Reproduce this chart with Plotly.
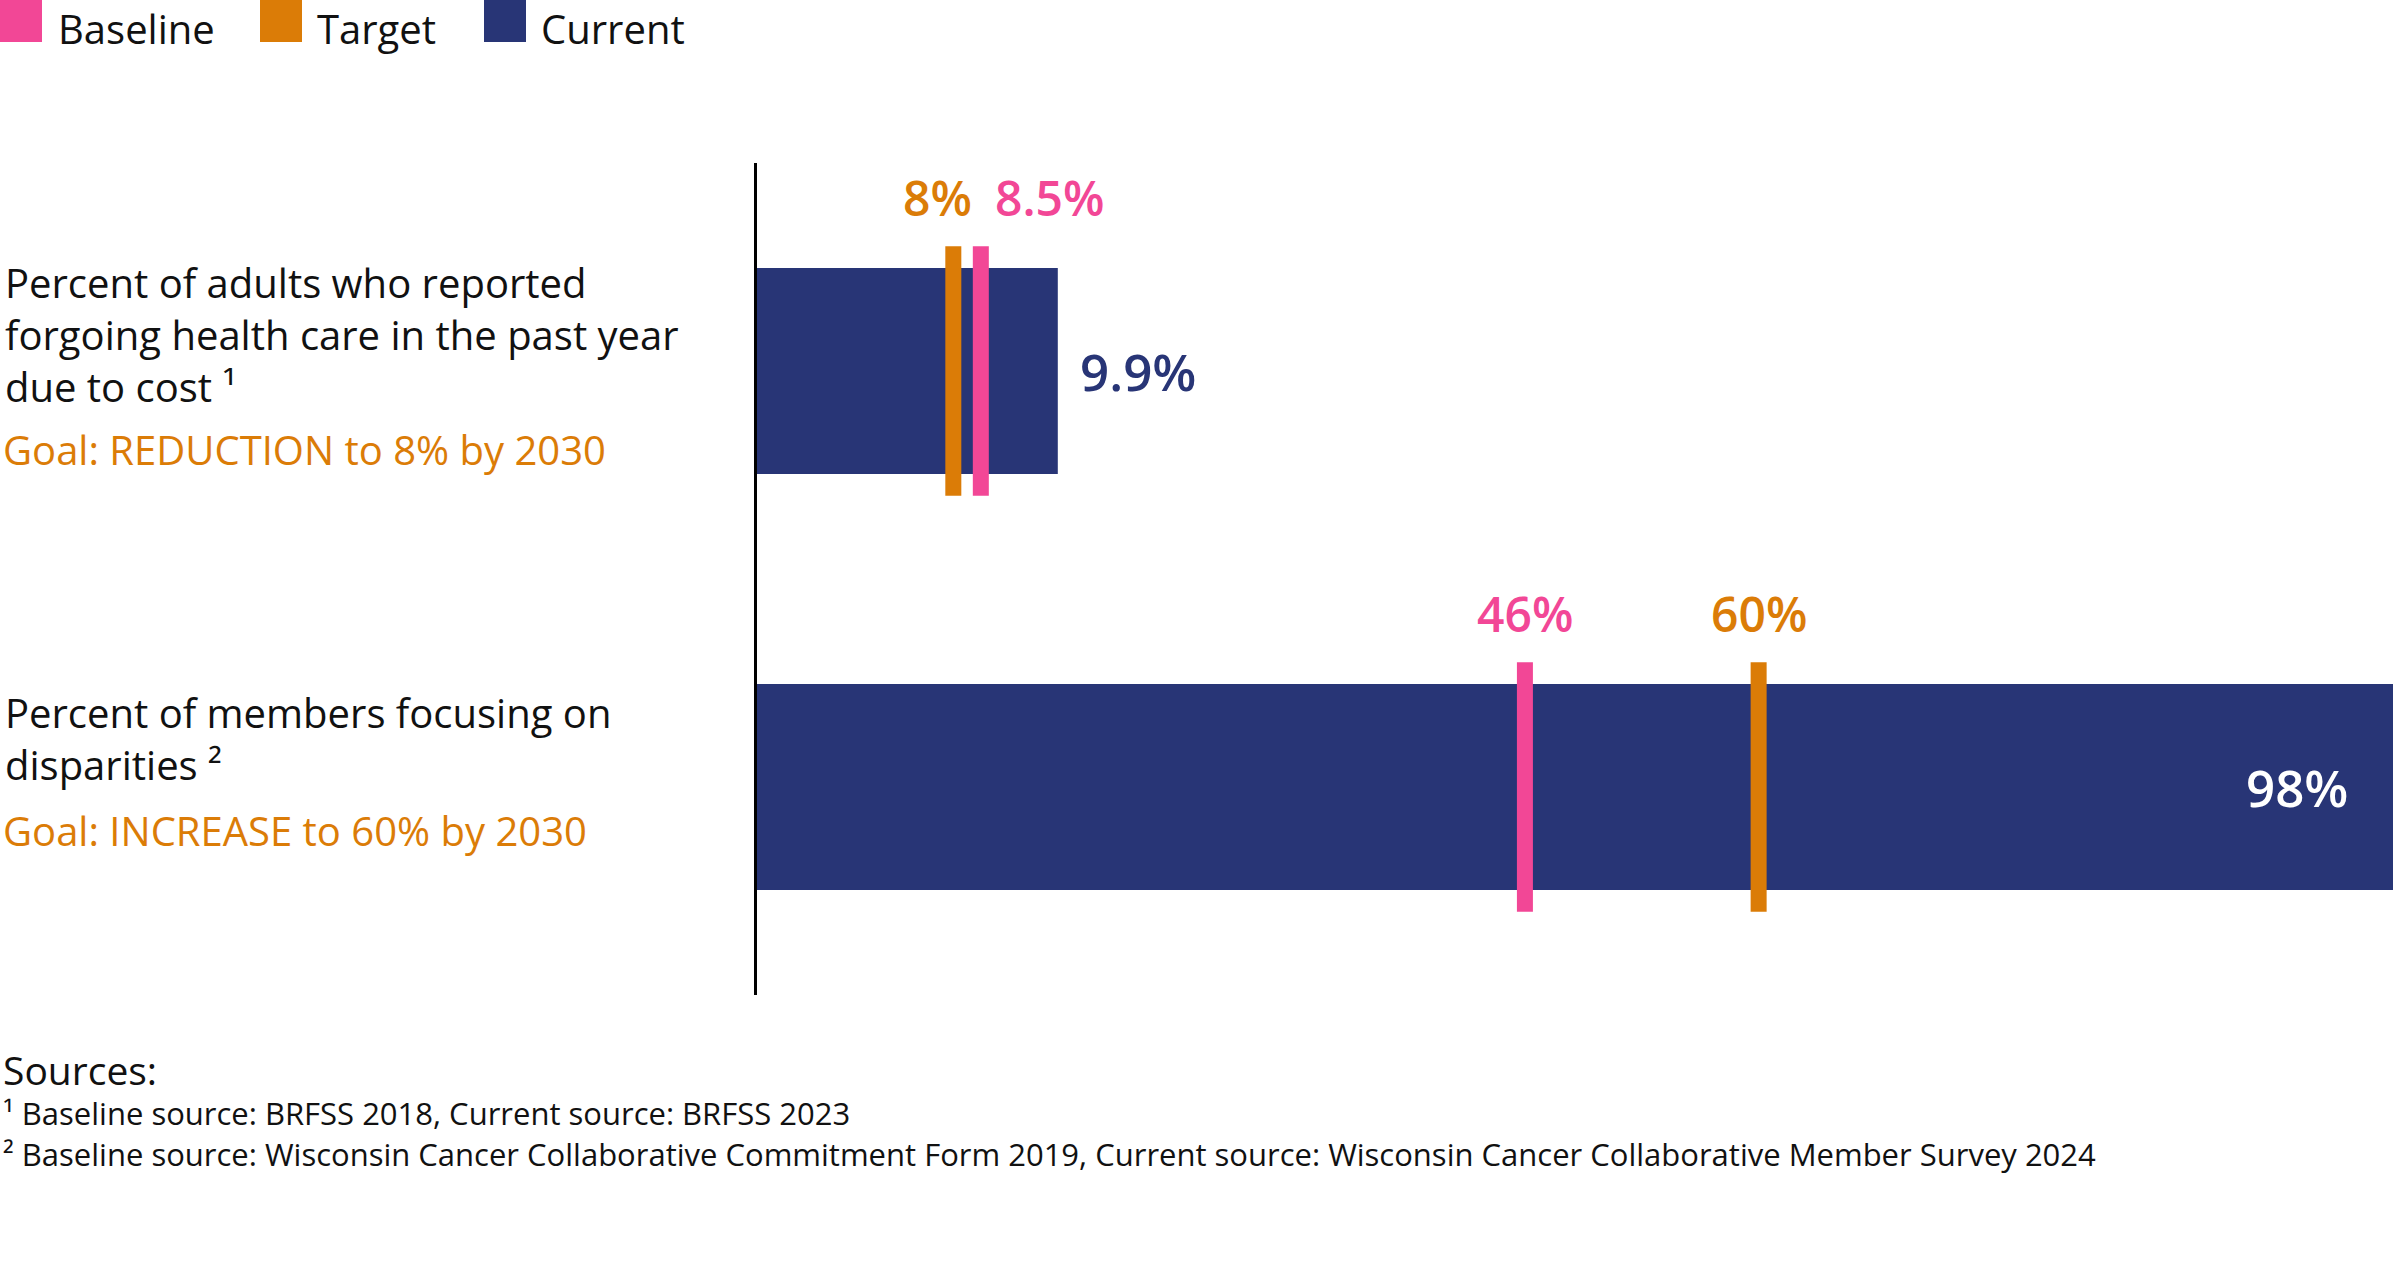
import plotly.graph_objects as go

# data
measures = [
    "Percent of adults who reported<br>forgoing health care in the past year<br>due to cost ¹",
    "Percent of members focusing on<br>disparities ²",
]
goals = ["Goal: REDUCTION to 8% by 2030", "Goal: INCREASE to 60% by 2030"]
baseline = [8.5, 46]
target = [8, 60]
current = [9.9, 98]
legend_names = ["Baseline", "Target", "Current"]
sources_title = "Sources:"
sources = [
    "¹ Baseline source: BRFSS 2018, Current source: BRFSS 2023",
    "² Baseline source: Wisconsin Cancer Collaborative Commitment Form 2019, "
    "Current source: Wisconsin Cancer Collaborative Member Survey 2024",
]

W, H = 2393, 1272
PINK = "#F24796"
ORANGE = "#DB7C07"
NAVY = "#283576"
FONT = "Open Sans"

rows = [0, 1]
xaxes = ["x", "x2"]

fig = go.Figure()

# current values as bars, one x scale per row (the original is not on a common scale)
for r, xa in zip(rows, xaxes):
    fig.add_trace(go.Bar(x=[current[r]], y=[r], orientation="h", width=0.495,
                         marker=dict(color=NAVY, line=dict(width=0)),
                         xaxis=xa, yaxis="y", showlegend=False, hoverinfo="skip"))

# baseline / target as thick vertical ticks
for r, xa in zip(rows, xaxes):
    for vals, col in ((target, ORANGE), (baseline, PINK)):
        fig.add_trace(go.Scatter(x=[vals[r], vals[r]], y=[r - 0.3, r + 0.3], mode="lines",
                                 line=dict(color=col, width=16),
                                 xaxis=xa, yaxis="y", showlegend=False, hoverinfo="skip"))

ann = []
lab = dict(family=FONT, size=48, weight=600)

# marker labels
ann.append(dict(x=target[0], y=-0.3, xref="x", yref="y", text=f"{target[0]:g}%",
                xanchor="right", yanchor="bottom", xshift=21, yshift=14,
                showarrow=False, font=dict(lab, color=ORANGE)))
ann.append(dict(x=baseline[0], y=-0.3, xref="x", yref="y", text=f"{baseline[0]:g}%",
                xanchor="left", yanchor="bottom", xshift=12, yshift=14,
                showarrow=False, font=dict(lab, color=PINK)))
ann.append(dict(x=baseline[1], y=0.7, xref="x2", yref="y", text=f"{baseline[1]:g}%",
                xanchor="center", yanchor="bottom", yshift=14,
                showarrow=False, font=dict(lab, color=PINK)))
ann.append(dict(x=target[1], y=0.7, xref="x2", yref="y", text=f"{target[1]:g}%",
                xanchor="center", yanchor="bottom", yshift=14,
                showarrow=False, font=dict(lab, color=ORANGE)))

# bar value labels
ann.append(dict(x=current[0], y=0, xref="x", yref="y", text=f"{current[0]:g}%",
                xanchor="left", yanchor="middle", xshift=20,
                showarrow=False, font=dict(family=FONT, size=51, weight=600, color=NAVY)))
ann.append(dict(x=current[1], y=1, xref="x2", yref="y", text=f"{current[1]:g}%",
                xanchor="right", yanchor="middle", xshift=-43,
                showarrow=False, font=dict(family=FONT, size=51, weight=600, color="white")))

# row labels on the left
label_y = [335, 738]
goal_y = [449, 830]
for r in rows:
    ann.append(dict(x=3 / W, y=1 - label_y[r] / H, xref="paper", yref="paper",
                    text=measures[r], align="left", xanchor="left", yanchor="middle",
                    showarrow=False, font=dict(family=FONT, size=40, color="#111111")))
    ann.append(dict(x=1 / W, y=1 - goal_y[r] / H, xref="paper", yref="paper",
                    text=goals[r], align="left", xanchor="left", yanchor="middle",
                    showarrow=False, font=dict(family=FONT, size=40, color=ORANGE)))

# legend drawn by hand (big square swatches)
shapes = []
sw_x = [0, 260, 484]
txt_x = [57, 316, 540]
for name, col, sx, tx in zip(legend_names, [PINK, ORANGE, NAVY], sw_x, txt_x):
    shapes.append(dict(type="rect", xref="paper", yref="paper", x0=sx / W, x1=(sx + 42) / W,
                       y0=1 - 42 / H, y1=1, fillcolor=col, line=dict(width=0)))
    ann.append(dict(x=tx / W, y=1, xref="paper", yref="paper", text=name,
                    xanchor="left", yanchor="top", borderpad=0, showarrow=False,
                    font=dict(family=FONT, size=40, color="#111111")))

# sources block
src_text = f"<span style='font-size:39px'>{sources_title}</span><br>" + "<br>".join(sources)
ann.append(dict(x=1 / W, y=1 - 1109 / H, xref="paper", yref="paper",
                text=src_text, align="left",
                xanchor="left", yanchor="middle", showarrow=False,
                font=dict(family=FONT, size=31, color="#111111")))

x0 = 757 / W
fig.update_layout(
    width=W, height=H,
    margin=dict(l=0, r=0, t=0, b=0),
    paper_bgcolor="white", plot_bgcolor="white",
    barmode="overlay",
    xaxis=dict(domain=[x0, 1], range=[4.43, 34.18], visible=False),
    xaxis2=dict(overlaying="x", range=[0, 98], visible=False),
    yaxis=dict(domain=[1 - 995 / H, 1 - 163 / H], range=[1.5, -0.5],
               showline=True, linecolor="black", linewidth=3,
               showticklabels=False, ticks="", showgrid=False, zeroline=False),
    annotations=ann,
    shapes=shapes,
    showlegend=False,
)

fig.write_html("out.html", config={"displayModeBar": False},
               post_script="document.body.style.margin='0px';")
